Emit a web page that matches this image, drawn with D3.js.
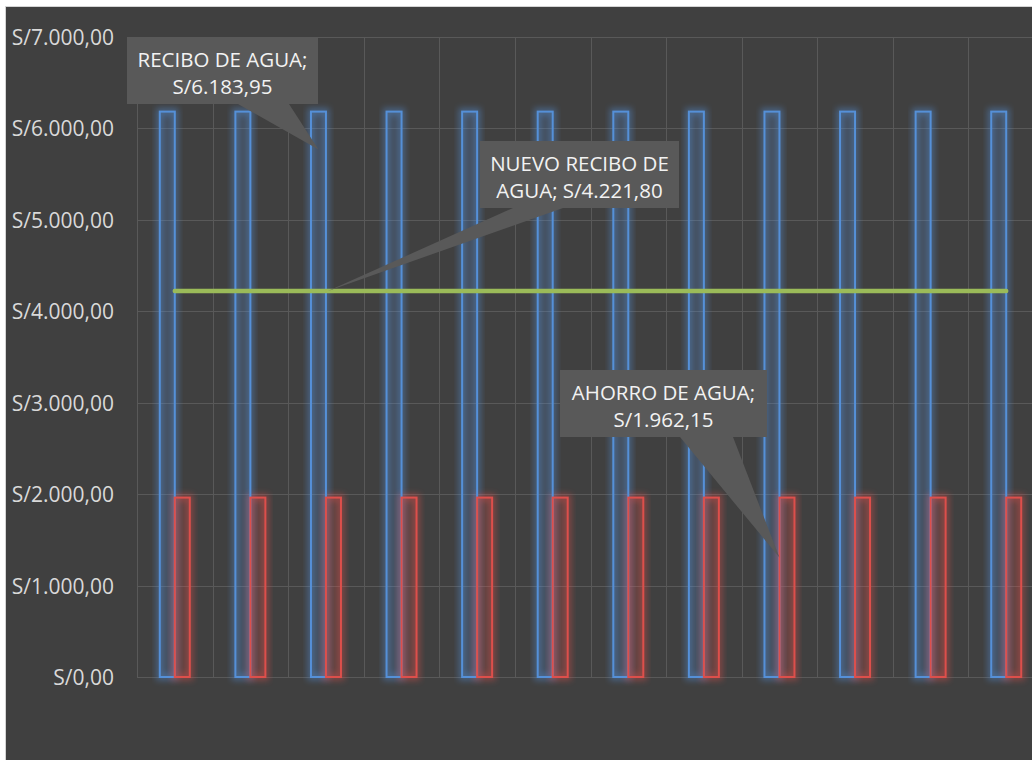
<!DOCTYPE html>
<html>
<head>
<meta charset="utf-8">
<script src="https://cdn.jsdelivr.net/npm/d3@7"></script>
<style>
  html, body { margin: 0; padding: 0; background: #ffffff; }
  svg { display: block; }
</style>
</head>
<body>
<svg id="chart" width="1032" height="760"></svg>
<script>
// ---- data ----
const categories = ["1", "2", "3", "4", "5", "6", "7", "8", "9", "10", "11", "12"];
const reciboAgua = [6183.95, 6183.95, 6183.95, 6183.95, 6183.95, 6183.95, 6183.95, 6183.95, 6183.95, 6183.95, 6183.95, 6183.95];
const ahorroAgua = [1962.15, 1962.15, 1962.15, 1962.15, 1962.15, 1962.15, 1962.15, 1962.15, 1962.15, 1962.15, 1962.15, 1962.15];
const nuevoRecibo = [4221.80, 4221.80, 4221.80, 4221.80, 4221.80, 4221.80, 4221.80, 4221.80, 4221.80, 4221.80, 4221.80, 4221.80];
const yTicks = [0, 1000, 2000, 3000, 4000, 5000, 6000, 7000];
const seriesNames = ["RECIBO DE AGUA", "AHORRO DE AGUA", "NUEVO RECIBO DE AGUA"];

const fmt = v => "S/" + d3.format(",.2f")(v).replace(/,/g, "#").replace(/\./g, ",").replace(/#/g, ".");

const svg = d3.select("#chart");
const W = 1032, H = 760;
const plot = { left: 137, right: 1044, top: 37, bottom: 677 };

const defs = svg.append("defs");
function glow(id, sd) {
  const f = defs.append("filter").attr("id", id)
    .attr("x", "-50%").attr("y", "-10%").attr("width", "200%").attr("height", "120%");
  f.append("feGaussianBlur").attr("stdDeviation", sd);
}
glow("glowBlur", 3);

// background
svg.append("rect").attr("x", 0).attr("y", 0).attr("width", W).attr("height", H).attr("fill", "#ffffff");
svg.append("rect").attr("x", 5.5).attr("y", 6.5).attr("width", W + 20).attr("height", H + 20)
  .attr("fill", "#404040").attr("stroke", "#d4d4d4").attr("stroke-width", 1);

const x = d3.scaleBand().domain(categories).range([plot.left, plot.right]).paddingInner(0).paddingOuter(0);
const x1 = d3.scaleBand().domain([0, 1]).range([0, x.bandwidth()]).paddingInner(0).paddingOuter(1.52);
const y = d3.scaleLinear().domain([0, 7000]).range([plot.bottom, plot.top]);

// grid
const grid = svg.append("g");
grid.selectAll("line.h").data(yTicks).join("line")
  .attr("x1", plot.left).attr("x2", plot.right + 20)
  .attr("y1", d => Math.round(y(d)) + 0.5).attr("y2", d => Math.round(y(d)) + 0.5)
  .attr("stroke", "#595959").attr("stroke-width", 1);
grid.selectAll("line.v").data(categories.concat(["end"])).join("line")
  .attr("x1", (d, i) => Math.round(plot.left + i * x.bandwidth()) + 0.5)
  .attr("x2", (d, i) => Math.round(plot.left + i * x.bandwidth()) + 0.5)
  .attr("y1", plot.top).attr("y2", plot.bottom)
  .attr("stroke", "#595959").attr("stroke-width", 1);

// y axis
const yAxis = d3.axisLeft(y).tickValues(yTicks).tickFormat(fmt).tickSize(0).tickPadding(0);
const ya = svg.append("g").attr("transform", `translate(114,0)`).call(yAxis);
ya.select(".domain").remove();
ya.selectAll("text").attr("fill", "#d9d9d9").attr("font-family", "'Open Sans', sans-serif")
  .attr("font-size", "21px").attr("dy", "0.36em");

// bars
const seriesDefs = [
  { values: reciboAgua, idx: 0, stroke: "#5590d8", fill: "rgba(85,144,216,0.16)" },
  { values: ahorroAgua, idx: 1, stroke: "#dd4f4b", fill: "rgba(221,79,75,0.16)" }
];
seriesDefs.forEach(s => {
  const g = svg.append("g");
  const data = s.values.map((v, i) => ({ c: categories[i], v }));
  g.selectAll("rect.glow").data(data).join("rect")
    .attr("x", d => x(d.c) + x1(s.idx)).attr("y", d => y(d.v))
    .attr("width", x1.bandwidth()).attr("height", d => y(0) - y(d.v))
    .attr("fill", "none").attr("stroke", s.stroke).attr("stroke-width", 7).attr("opacity", 0.45)
    .attr("filter", "url(#glowBlur)");
});
seriesDefs.forEach(s => {
  const g = svg.append("g");
  const data = s.values.map((v, i) => ({ c: categories[i], v }));
  g.selectAll("rect.bar").data(data).join("rect")
    .attr("x", d => x(d.c) + x1(s.idx)).attr("y", d => y(d.v))
    .attr("width", x1.bandwidth()).attr("height", d => y(0) - y(d.v))
    .attr("fill", s.fill).attr("stroke", s.stroke).attr("stroke-width", 2);
});

// line
const lineData = nuevoRecibo.map((v, i) => ({ c: categories[i], v }));
const line = d3.line().x(d => x(d.c) + x.bandwidth() / 2).y(d => y(d.v));
svg.append("path").datum(lineData).attr("d", line).attr("fill", "none")
  .attr("stroke", "#9bbb59").attr("stroke-width", 14).attr("opacity", 0.35)
  .attr("filter", "url(#glowBlur)");
svg.append("path").datum(lineData).attr("d", line).attr("fill", "none")
  .attr("stroke", "#9bbb59").attr("stroke-width", 4.5).attr("stroke-linecap", "round");

// callouts
const callouts = [
  { lines: [seriesNames[0] + ";", fmt(reciboAgua[2])],
    tipX: x(categories[2]) + x1(0) + x1.bandwidth() / 2, tipY: y(reciboAgua[2]) + 38,
    box: [127, 37, 318, 104], base: [238, 289] },
  { lines: ["NUEVO RECIBO DE", "AGUA; " + fmt(nuevoRecibo[2])],
    tipX: x(categories[2]) + x.bandwidth() / 2 + 2, tipY: y(nuevoRecibo[2]),
    box: [480, 141, 679, 208], base: [513, 563] },
  { lines: [seriesNames[1] + ";", fmt(ahorroAgua[8])],
    tipX: x(categories[8]) + x1(1), tipY: y(ahorroAgua[8]) + 60,
    box: [560, 370, 767, 437], base: [680, 733] }
];
const cg = svg.append("g");
callouts.forEach(c => {
  const [x0, y0, x1b, y1b] = c.box;
  const p = d3.path();
  p.moveTo(x0, y0); p.lineTo(x1b, y0); p.lineTo(x1b, y1b);
  p.lineTo(c.base[1], y1b); p.lineTo(c.tipX, c.tipY); p.lineTo(c.base[0], y1b);
  p.lineTo(x0, y1b); p.closePath();
  cg.append("path").attr("d", p.toString()).attr("fill", "#595959");
  const cx = (x0 + x1b) / 2;
  const t = cg.append("text").attr("text-anchor", "middle").attr("fill", "#f2f2f2")
    .attr("font-family", "'Open Sans', sans-serif").attr("font-size", "20.5px");
  c.lines.forEach((l, i) => {
    t.append("tspan").attr("x", cx).attr("y", y0 + 30 + i * 27).text(l);
  });
});
</script>
</body>
</html>
